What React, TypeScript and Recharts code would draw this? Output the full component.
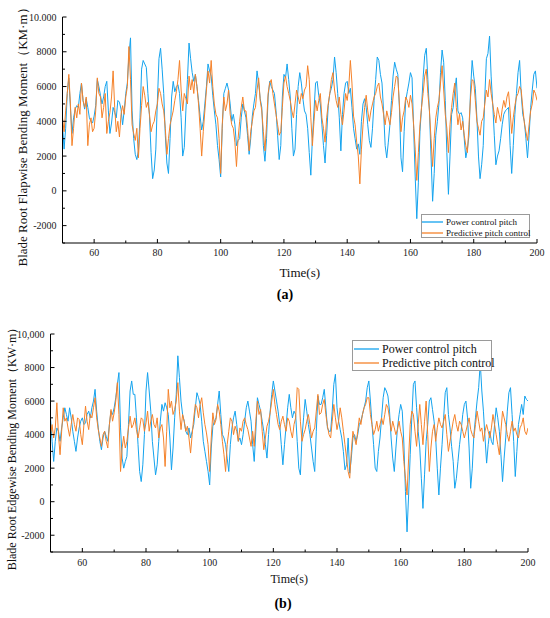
import { Label, Legend, Line, LineChart, XAxis, YAxis } from 'recharts';

// sample times (s), every half second
const TIME = [
    50, 50.5, 51, 51.5, 52, 52.5, 53, 53.5, 54, 54.5, 55, 55.5, 56, 56.5, 57, 57.5, 58, 58.5, 59, 59.5,
    60, 60.5, 61, 61.5, 62, 62.5, 63, 63.5, 64, 64.5, 65, 65.5, 66, 66.5, 67, 67.5, 68, 68.5, 69, 69.5,
    70, 70.5, 71, 71.5, 72, 72.5, 73, 73.5, 74, 74.5, 75, 75.5, 76, 76.5, 77, 77.5, 78, 78.5, 79, 79.5,
    80, 80.5, 81, 81.5, 82, 82.5, 83, 83.5, 84, 84.5, 85, 85.5, 86, 86.5, 87, 87.5, 88, 88.5, 89, 89.5,
    90, 90.5, 91, 91.5, 92, 92.5, 93, 93.5, 94, 94.5, 95, 95.5, 96, 96.5, 97, 97.5, 98, 98.5, 99, 99.5,
    100, 100.5, 101, 101.5, 102, 102.5, 103, 103.5, 104, 104.5, 105, 105.5, 106, 106.5, 107, 107.5, 108, 108.5, 109, 109.5,
    110, 110.5, 111, 111.5, 112, 112.5, 113, 113.5, 114, 114.5, 115, 115.5, 116, 116.5, 117, 117.5, 118, 118.5, 119, 119.5,
    120, 120.5, 121, 121.5, 122, 122.5, 123, 123.5, 124, 124.5, 125, 125.5, 126, 126.5, 127, 127.5, 128, 128.5, 129, 129.5,
    130, 130.5, 131, 131.5, 132, 132.5, 133, 133.5, 134, 134.5, 135, 135.5, 136, 136.5, 137, 137.5, 138, 138.5, 139, 139.5,
    140, 140.5, 141, 141.5, 142, 142.5, 143, 143.5, 144, 144.5, 145, 145.5, 146, 146.5, 147, 147.5, 148, 148.5, 149, 149.5,
    150, 150.5, 151, 151.5, 152, 152.5, 153, 153.5, 154, 154.5, 155, 155.5, 156, 156.5, 157, 157.5, 158, 158.5, 159, 159.5,
    160, 160.5, 161, 161.5, 162, 162.5, 163, 163.5, 164, 164.5, 165, 165.5, 166, 166.5, 167, 167.5, 168, 168.5, 169, 169.5,
    170, 170.5, 171, 171.5, 172, 172.5, 173, 173.5, 174, 174.5, 175, 175.5, 176, 176.5, 177, 177.5, 178, 178.5, 179, 179.5,
    180, 180.5, 181, 181.5, 182, 182.5, 183, 183.5, 184, 184.5, 185, 185.5, 186, 186.5, 187, 187.5, 188, 188.5, 189, 189.5,
    190, 190.5, 191, 191.5, 192, 192.5, 193, 193.5, 194, 194.5, 195, 195.5, 196, 196.5, 197, 197.5, 198, 198.5, 199, 199.5,
    200,
];

// (a) flapwise moment
const FLAP_POWER = [
    3800, 2400, 3600, 5600, 6500, 4800, 3300, 4200, 4700, 4900, 4800, 5600, 6200, 5200, 4700, 5300, 4800, 4200, 4000, 3900,
    4300, 4900, 6400, 6000, 5500, 5000, 5400, 6000, 6300, 4600, 3300, 3900, 4800, 4500, 4200, 5200, 5100, 4700, 3800, 4600,
    5600, 6200, 7800, 8800, 4600, 3000, 2100, 1800, 2300, 4200, 7000, 7500, 7300, 7100, 5600, 4300, 2200, 700, 1200, 2400,
    5200, 7600, 8200, 7000, 5600, 3200, 1600, 1000, 3000, 5400, 6300, 5700, 6000, 6100, 5600, 4200, 2000, 2500, 4600, 6400,
    8500, 7600, 6800, 6300, 6700, 6000, 5200, 4300, 3500, 4000, 5000, 6000, 7300, 6900, 6600, 5500, 4600, 3800, 2600, 1800,
    800, 3600, 5600, 5900, 6200, 5800, 5000, 4000, 4400, 3800, 2600, 2900, 3000, 4200, 5000, 4600, 4200, 3200, 2100, 3000,
    4300, 5000, 5600, 6900, 6200, 5300, 4800, 2600, 1700, 3000, 5400, 6300, 6000, 5800, 5600, 4600, 3200, 1800, 2600, 5400,
    6700, 6500, 7300, 6400, 5400, 3600, 2000, 2400, 4400, 6000, 6800, 6200, 5300, 4600, 4400, 3600, 2200, 900, 3000, 4600,
    6200, 6300, 5500, 5000, 3800, 2600, 1600, 3200, 4900, 5600, 5900, 6400, 7700, 6800, 5600, 4200, 2300, 4400, 5600, 6200,
    6300, 5600, 5900, 4800, 3600, 3000, 2400, 2700, 2100, 4000, 5000, 5300, 4800, 3800, 2900, 2500, 3600, 5200, 6400, 7700,
    7500, 6700, 6200, 4600, 2600, 1900, 2800, 3800, 5200, 6600, 7400, 7000, 6700, 4800, 1900, 1100, 3400, 5200, 5700, 6200,
    6800, 6500, 3600, 800, -1600, 500, 3400, 4800, 6500, 7800, 8200, 6400, 4600, 2000, -600, 1000, 3200, 4000, 5000, 6800,
    8100, 7400, 5200, 2200, -200, 2000, 4400, 4800, 5800, 6500, 4600, 4400, 4500, 4200, 3000, 1900, 2400, 3200, 5800, 7500,
    6600, 5900, 4200, 2000, 700, 1500, 2600, 5400, 7600, 7900, 8900, 6600, 5000, 3200, 1500, 2000, 2300, 3000, 3800, 4400,
    4600, 4700, 4800, 2600, 1000, 2600, 4400, 5600, 6800, 7500, 5600, 4400, 4000, 3000, 1900, 3200, 4800, 5800, 6700, 6900,
    5900,
];
const FLAP_PREDICTIVE = [
    4200, 3400, 4600, 5600, 6700, 5000, 2600, 3600, 4800, 4200, 5000, 4400, 6200, 5200, 4800, 5400, 2600, 3800, 4200, 3400,
    3600, 4600, 6500, 5600, 5400, 4200, 4800, 5600, 3300, 4000, 4500, 5400, 6900, 4800, 3400, 4000, 3100, 4400, 4900, 4400,
    5400, 6000, 8300, 6400, 3800, 3300, 2900, 3600, 1900, 3600, 4900, 6000, 5500, 4800, 5100, 4400, 3400, 3800, 4000, 4600,
    5000, 5900, 5600, 5000, 4600, 3600, 2100, 3000, 3800, 4200, 4600, 5200, 5700, 6400, 7500, 5800, 4600, 5600, 5300, 5000,
    6600, 5800, 6400, 5600, 6700, 6000, 5000, 3600, 2000, 3400, 4600, 5800, 6900, 6200, 7500, 6000, 5000, 4400, 4200, 3000,
    1000, 3800, 5400, 4600, 5000, 5800, 4400, 3800, 3600, 2800, 1400, 3000, 4000, 4800, 5400, 4600, 4600, 3600, 2300, 3400,
    4000, 4600, 4800, 5800, 6500, 5200, 4600, 3400, 2300, 3800, 5600, 6200, 6400, 5600, 5000, 4400, 3800, 3200, 3400, 4800,
    6200, 6600, 6000, 5600, 5200, 4600, 4200, 5000, 5800, 5400, 5000, 5600, 5300, 5800, 6000, 7200, 6400, 4200, 2600, 4000,
    5200, 4600, 5200, 5600, 4200, 3600, 2800, 4200, 5000, 5600, 6400, 6800, 5800, 5200, 4800, 5400, 4400, 3800, 4600, 5600,
    5200, 6000, 7500, 6200, 4300, 3800, 2800, 2000, 400, 2400, 3800, 4800, 5500, 4600, 4000, 4600, 5000, 5400, 5600, 6000,
    6200, 5400, 5000, 4400, 3800, 4600, 4200, 3800, 4500, 5400, 6000, 6600, 6500, 5000, 3400, 4200, 4600, 5400, 5200, 4800,
    5500, 5000, 3800, 2400, 600, 2200, 3800, 4800, 5600, 6600, 7000, 5600, 4600, 3000, 1400, 3000, 4200, 4800, 5200, 6200,
    7200, 5800, 4400, 3600, 2200, 3800, 4800, 5600, 6200, 4800, 3800, 4400, 3500, 4000, 3200, 2600, 2200, 3800, 5400, 6400,
    6300, 5200, 4000, 3600, 3200, 4000, 4200, 5000, 5800, 5400, 6400, 5600, 5000, 4400, 3900, 4800, 4400, 4000, 4700, 5200,
    4800, 5400, 5700, 4600, 3300, 4200, 4900, 5400, 5600, 6000, 5800, 4800, 3900, 3400, 2900, 3800, 4600, 5000, 5800, 5600,
    5200,
];

// (b) edgewise moment
const EDGE_POWER = [
    5000, 3600, 2400, 3600, 4400, 4200, 3600, 4400, 5000, 5600, 5200, 4800, 5600, 5000, 4200, 3600, 3000, 3800, 4400, 4800,
    5000, 4600, 4700, 5200, 5400, 5000, 5600, 6000, 6700, 5400, 4400, 3600, 3100, 3800, 4200, 3900, 3600, 4600, 5400, 5200,
    5600, 6200, 7000, 7700, 4400, 2600, 2000, 2400, 2700, 4600, 6600, 7200, 6400, 6400, 5000, 3400, 1800, 1200, 2200, 4000,
    6600, 7700, 6600, 5400, 3600, 2600, 1600, 2200, 3600, 4800, 5800, 5400, 5900, 5600, 5200, 3800, 1900, 3200, 5000, 6400,
    8700, 7400, 6000, 5200, 4800, 4200, 4000, 4400, 3800, 4200, 4600, 5600, 6500, 6200, 5800, 4800, 3600, 3000, 2400, 1800,
    1000, 3200, 4500, 4800, 5000, 5800, 6600, 5200, 4000, 3800, 3400, 2600, 1800, 3400, 4400, 5000, 5400, 4600, 3600, 3800,
    3400, 4000, 4800, 5600, 6000, 5400, 4800, 3400, 2400, 4200, 6200, 5800, 5400, 4800, 4200, 3400, 2600, 4000, 5400, 6400,
    7200, 6600, 6000, 5400, 4600, 3400, 2200, 3400, 4500, 5600, 6400, 5600, 5000, 5400, 5200, 3600, 2000, 1600, 3800, 5000,
    6100, 5400, 4600, 4000, 3200, 2400, 1800, 4200, 6300, 5800, 5800, 6200, 6700, 5600, 4400, 4200, 4200, 5400, 7000, 7600,
    5600, 4800, 4300, 3800, 3000, 1900, 2200, 3800, 1700, 2600, 3800, 4000, 3600, 4000, 4600, 4800, 5200, 5600, 6000, 6800,
    7200, 6000, 4600, 3400, 2000, 1800, 3000, 3800, 5000, 6200, 6800, 6600, 6300, 5400, 3800, 2600, 1800, 3200, 4400, 5200,
    5800, 5400, 3500, 600, -1800, 400, 2800, 5000, 7000, 7200, 5600, 4200, 3200, 1400, -400, 1600, 3600, 4600, 6000, 6200,
    5500, 4800, 3800, 2000, 400, 2000, 3400, 5000, 6500, 6800, 5200, 4400, 3300, 2400, 800, 1400, 2400, 3400, 4200, 5200,
    5800, 6000, 5000, 3200, 800, 2000, 4000, 5000, 6000, 6800, 8300, 6600, 5400, 3800, 2300, 3400, 4200, 3600, 3400, 4600,
    5600, 5000, 4200, 2800, 1200, 2600, 3800, 5400, 6500, 6800, 5200, 3600, 1500, 3000, 4600, 5200, 5800, 5200, 6300, 6100,
    6000,
];
const EDGE_PREDICTIVE = [
    4000, 4600, 3800, 4400, 5900, 4000, 2800, 4200, 5600, 4800, 5000, 4400, 3900, 4600, 5200, 4600, 4200, 5000, 4900, 4000,
    3400, 4600, 5700, 4800, 4300, 5200, 5000, 5600, 6200, 5000, 4300, 3800, 3300, 4000, 4200, 3600, 3200, 4600, 5500, 4800,
    5300, 6000, 7100, 5200, 1800, 3200, 3900, 3200, 3600, 4400, 5100, 4400, 4600, 5000, 4300, 3800, 4400, 5000, 4900, 4200,
    4700, 5400, 4200, 4800, 5200, 4600, 4400, 5000, 3800, 4400, 4600, 3800, 2100, 4200, 6700, 5600, 6000, 5200, 5500, 6000,
    7100, 5400, 4300, 5200, 4800, 4200, 4500, 3800, 2900, 4000, 5000, 5800, 5600, 5000, 5800, 6200, 5300, 4600, 4100, 3400,
    1800, 3800, 5300, 4600, 4900, 5800, 5400, 4600, 3600, 2800, 1800, 3400, 4200, 5000, 4800, 4000, 4500, 4200, 3600, 4400,
    4200, 4800, 5000, 4600, 4300, 3800, 3300, 4200, 3300, 4800, 6000, 5200, 5500, 4200, 3100, 3800, 4500, 4800, 5300, 6000,
    6700, 5800, 5200, 4600, 4300, 4800, 5100, 4600, 4200, 5000, 4800, 4200, 3800, 4600, 5000, 6800, 6700, 4800, 3600, 4000,
    4300, 4800, 5200, 4600, 3800, 4200, 4400, 5400, 6400, 5200, 5300, 5800, 6100, 5200, 4500, 4000, 3800, 4800, 5800, 5000,
    4300, 4800, 5600, 5000, 4200, 3400, 2600, 1800, 1400, 3000, 4200, 3800, 3400, 4200, 5000, 4600, 5200, 5600, 5800, 6200,
    6200, 5200, 4600, 4000, 4300, 4800, 4200, 4600, 5000, 4600, 5200, 5800, 5600, 5000, 4200, 4800, 4400, 4000, 4300, 4800,
    4200, 3800, 2400, 1400, 400, 2600, 4600, 5400, 5200, 4200, 3300, 4600, 5800, 4600, 3400, 4800, 6000, 4000, 1800, 3200,
    4200, 4600, 3600, 4400, 5000, 4600, 4400, 4800, 5200, 4000, 3000, 3600, 4200, 4800, 5200, 4600, 4200, 4800, 4600, 4200,
    3800, 4200, 4600, 5000, 4300, 4000, 3800, 4600, 5400, 4800, 4200, 4400, 3600, 4200, 4600, 4200, 3800, 4400, 5200, 4600,
    4000, 3400, 2800, 4200, 5400, 5000, 4600, 4000, 3600, 4200, 4800, 4200, 4400, 4000, 3800, 4400, 4600, 5000, 4200, 4000,
    4400,
];

const SERIES_NAMES = ['Power control pitch', 'Predictive pitch control'];
const TIME_TICKS = [50, 60, 70, 80, 90, 100, 110, 120, 130, 140, 150, 160, 170, 180, 190, 200];
const TIME_LABELS = [60, 80, 100, 120, 140, 160, 180, 200];
const MOMENT_TICKS = [-3000, -2000, -1000, 0, 1000, 2000, 3000, 4000, 5000, 6000, 7000, 8000, 9000, 10000];
const MOMENT_LABELS = [-2000, 0, 2000, 4000, 6000, 8000, 10000];

const BLUE = '#14a3ee';
const ORANGE = '#f5822a';
const FONT = '"Liberation Serif", "Times New Roman", serif';

const flapRows = TIME.map((t, i) => ({ t, power: FLAP_POWER[i], predictive: FLAP_PREDICTIVE[i] }));
const edgeRows = TIME.map((t, i) => ({ t, power: EDGE_POWER[i], predictive: EDGE_PREDICTIVE[i] }));

function momentText(v: number, sep: string) {
    return v === 10000 ? `10${sep}000` : String(v);
}

// inward tick marks on all four sides, labels only on bottom / left
function timeTick(side: 'bottom' | 'top', labelGap: number) {
    return (props: any) => {
        const { x, y, payload } = props;
        const major = TIME_LABELS.includes(payload.value);
        const len = major ? 4 : 2.5;
        const dir = side === 'bottom' ? -1 : 1;
        return (
            <g>
                <line x1={x} x2={x} y1={y} y2={y + dir * len} stroke="#000" strokeWidth={1} />
                {side === 'bottom' && major && (
                    <text x={x} y={y + labelGap} textAnchor="middle" dominantBaseline="central" fontSize={10} fontFamily={FONT} fill="#222">
                        {payload.value}
                    </text>
                )}
            </g>
        );
    };
}

function momentTick(side: 'left' | 'right', sep: string) {
    return (props: any) => {
        const { x, y, payload } = props;
        const major = MOMENT_LABELS.includes(payload.value);
        const len = major ? 4 : 2.5;
        const dir = side === 'left' ? 1 : -1;
        return (
            <g>
                <line x1={x} x2={x + dir * len} y1={y} y2={y} stroke="#000" strokeWidth={1} />
                {side === 'left' && major && (
                    <text x={x - 6} y={y} textAnchor="end" dominantBaseline="central" fontSize={10} fontFamily={FONT} fill="#222">
                        {momentText(payload.value, sep)}
                    </text>
                )}
            </g>
        );
    };
}

function legendContent(fontSize: number, rowH: number, sample: number, padTop: number, padLeft: number) {
    return (props: any) => (
        <div
            style={{
                border: '1px solid #9a9a9a',
                background: '#fff',
                paddingTop: padTop,
                paddingLeft: padLeft,
                boxSizing: 'border-box',
                fontFamily: FONT,
                fontSize,
                color: '#111',
                height: '100%',
            }}
        >
            {(props.payload || []).map((item: any) => (
                <div key={item.value} style={{ display: 'flex', alignItems: 'center', height: rowH, whiteSpace: 'nowrap' }}>
                    <svg width={sample} height={4} style={{ flex: 'none' }}>
                        <line x1={0} x2={sample} y1={2} y2={2} stroke={item.color} strokeWidth={1.3} />
                    </svg>
                    <span style={{ marginLeft: 3 }}>{item.value}</span>
                </div>
            ))}
        </div>
    );
}

interface PanelProps {
    rows: { t: number; power: number; predictive: number }[];
    height: number;
    margin: { top: number; right: number; bottom: number; left: number };
    yWidth: number;
    yTitle: string;
    yTitleX: number;
    yTitleDy: number;
    xTitleDy: number;
    titleSize: number;
    labelGap: number;
    sep: string;
    legend: { left: number; top: number; width: number; height: number; fontSize: number; rowH: number; sample: number; padTop: number; padLeft: number };
}

function Panel(p: PanelProps) {
    const lg = p.legend;
    return (
        <LineChart width={550} height={p.height} data={p.rows} margin={p.margin}>
            <XAxis
                dataKey="t"
                type="number"
                domain={[50, 200]}
                ticks={TIME_TICKS}
                interval={0}
                allowDataOverflow
                height={30}
                tickSize={0}
                tickMargin={0}
                tickLine={false}
                axisLine={{ stroke: '#000', strokeWidth: 1 }}
                tick={timeTick('bottom', p.labelGap)}
            >
                <Label
                    content={(lp: any) => {
                        const vb = lp.viewBox;
                        return (
                            <text x={vb.x + vb.width / 2} y={vb.y + p.xTitleDy} textAnchor="middle" dominantBaseline="central" fontSize={p.titleSize} fontFamily={FONT} fill="#111">
                                Time(s)
                            </text>
                        );
                    }}
                />
            </XAxis>
            <XAxis
                xAxisId="top"
                orientation="top"
                dataKey="t"
                type="number"
                domain={[50, 200]}
                ticks={TIME_TICKS}
                interval={0}
                allowDataOverflow
                height={0}
                tickSize={0}
                tickMargin={0}
                tickLine={false}
                axisLine={{ stroke: '#000', strokeWidth: 1 }}
                tick={timeTick('top', 0)}
            />
            <YAxis
                type="number"
                domain={[-3000, 10000]}
                ticks={MOMENT_TICKS}
                interval={0}
                allowDataOverflow
                width={p.yWidth}
                tickSize={0}
                tickMargin={0}
                tickLine={false}
                axisLine={{ stroke: '#000', strokeWidth: 1 }}
                tick={momentTick('left', p.sep)}
            >
                <Label
                    content={(lp: any) => {
                        const vb = lp.viewBox;
                        const cy = vb.y + vb.height / 2 + p.yTitleDy;
                        return (
                            <text
                                x={p.yTitleX}
                                y={cy}
                                transform={`rotate(-90, ${p.yTitleX}, ${cy})`}
                                textAnchor="middle"
                                dominantBaseline="central"
                                fontSize={p.titleSize}
                                fontFamily={FONT}
                                fill="#111"
                            >
                                {p.yTitle}
                            </text>
                        );
                    }}
                />
            </YAxis>
            <YAxis
                yAxisId="right"
                orientation="right"
                type="number"
                domain={[-3000, 10000]}
                ticks={MOMENT_TICKS}
                interval={0}
                allowDataOverflow
                width={0}
                tickSize={0}
                tickMargin={0}
                tickLine={false}
                axisLine={{ stroke: '#000', strokeWidth: 1 }}
                tick={momentTick('right', p.sep)}
            />
            <Legend
                layout="vertical"
                align="center"
                verticalAlign="middle"
                wrapperStyle={{ left: lg.left, top: lg.top, width: lg.width, height: lg.height }}
                content={legendContent(lg.fontSize, lg.rowH, lg.sample, lg.padTop, lg.padLeft)}
            />
            <Line
                type="linear"
                dataKey="power"
                name={SERIES_NAMES[0]}
                stroke={BLUE}
                strokeWidth={1}
                dot={false}
                isAnimationActive={false}
            />
            <Line
                type="linear"
                dataKey="predictive"
                name={SERIES_NAMES[1]}
                stroke={ORANGE}
                strokeWidth={1}
                dot={false}
                isAnimationActive={false}
            />
        </LineChart>
    );
}

const caption: React.CSSProperties = {
    position: 'absolute',
    width: 40,
    textAlign: 'center',
    fontFamily: FONT,
    fontWeight: 'bold',
    fontSize: 14,
    lineHeight: '16px',
};

export default function App() {
    return (
        <div style={{ position: 'absolute', left: 0, top: 0, width: 550, height: 618, background: '#fff', overflow: 'hidden' }}>
            <div style={{ position: 'absolute', left: 0, top: 0 }}>
                <Panel
                    rows={flapRows}
                    height={300}
                    margin={{ top: 17, right: 13, bottom: 27, left: 0 }}
                    yWidth={62.5}
                    yTitle="Blade Root Flapwise Bending Moment（KM·m）"
                    yTitleX={22}
                    yTitleDy={4}
                    xTitleDy={29}
                    titleSize={13}
                    labelGap={9}
                    sep="."
                    legend={{ left: 421, top: 214, width: 109, height: 24, fontSize: 9, rowH: 11, sample: 21, padTop: 1, padLeft: 0 }}
                />
            </div>
            <div style={{ ...caption, left: 265, top: 287 }}>(a)</div>
            <div style={{ position: 'absolute', left: 0, top: 305 }}>
                <Panel
                    rows={edgeRows}
                    height={310}
                    margin={{ top: 29, right: 22, bottom: 33, left: 0 }}
                    yWidth={50.5}
                    yTitle="Blade Root Edgewise Bending Moment（KW·m）"
                    yTitleX={12}
                    yTitleDy={3}
                    xTitleDy={27}
                    titleSize={12}
                    labelGap={10}
                    sep=","
                    legend={{ left: 352, top: 35, width: 140, height: 31, fontSize: 12, rowH: 14, sample: 25, padTop: 1, padLeft: 1 }}
                />
            </div>
            <div style={{ ...caption, left: 263, top: 596 }}>(b)</div>
        </div>
    );
}
